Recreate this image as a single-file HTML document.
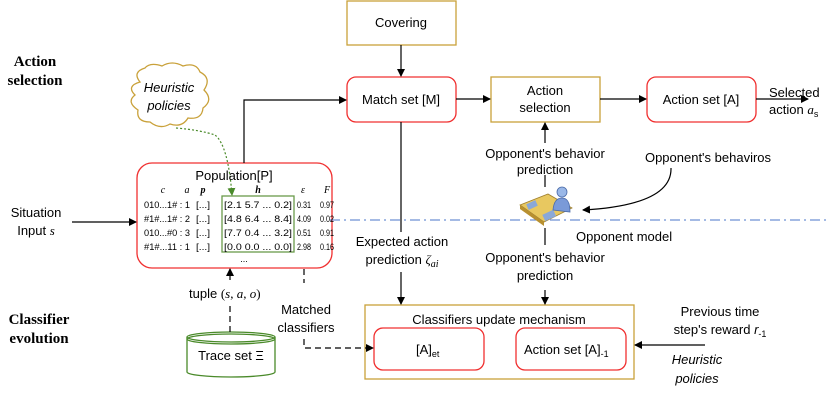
<!DOCTYPE html>
<html><head><meta charset="utf-8"><style>
body{margin:0;background:#fff}
svg{display:block;font-family:"Liberation Sans",sans-serif}
.s{font-family:"Liberation Serif",serif}
</style></head><body>
<svg width="830" height="401" viewBox="0 0 830 401" xmlns="http://www.w3.org/2000/svg">
<defs>
<marker id="a" markerWidth="8" markerHeight="8" refX="7" refY="4" orient="auto" markerUnits="userSpaceOnUse"><path d="M0,0 L8,4 L0,8 z" fill="#000"/></marker>
<marker id="g" markerWidth="8" markerHeight="8" refX="7" refY="4" orient="auto" markerUnits="userSpaceOnUse"><path d="M0,0 L8,4 L0,8 z" fill="#4a8a2a"/></marker>
</defs>
<g fill="none" stroke-width="1.3">
<rect x="347" y="1" width="109" height="44" stroke="#c9a13a"/>
<rect x="347" y="77" width="109" height="45" rx="9" stroke="#f03030"/>
<rect x="491" y="77" width="109" height="45" stroke="#c9a13a"/>
<rect x="647" y="77" width="109" height="45" rx="9" stroke="#f03030"/>
<rect x="137" y="163" width="195" height="105" rx="15" stroke="#f03030"/>
<rect x="222" y="196" width="72" height="56" stroke="#6a9a4a"/>
<rect x="365" y="305" width="269" height="74" stroke="#c9a13a"/>
<rect x="374" y="328" width="110" height="42" rx="9" stroke="#f03030"/>
<rect x="516" y="328" width="110" height="42" rx="9" stroke="#f03030"/>
<path d="M187,337 L187,372 A44,5 0 0 0 275,372 L275,337" stroke="#4a8a2a"/>
<ellipse cx="231" cy="337" rx="44" ry="5" stroke="#4a8a2a"/>
<ellipse cx="231" cy="339" rx="44" ry="5" stroke="#4a8a2a"/>
<path d="M140,82 Q132,72 145,68 Q150,62 162,66 Q172,60 183,66 Q196,62 200,72 Q212,78 204,90 Q214,100 203,108 Q202,120 188,118 Q182,128 170,124 Q160,130 150,122 Q136,122 138,110 Q126,102 135,95 Q126,86 140,82 z" stroke="#c9a13a"/>
</g>
<g stroke="#000" stroke-width="1.2" fill="none">
<line x1="401" y1="45" x2="401" y2="76" marker-end="url(#a)"/>
<polyline points="244,163 244,100 346,100" marker-end="url(#a)"/>
<line x1="456" y1="99" x2="490" y2="99" marker-end="url(#a)"/>
<line x1="600" y1="99" x2="646" y2="99" marker-end="url(#a)"/>
<line x1="756" y1="99" x2="808" y2="99" marker-end="url(#a)"/>
<line x1="545" y1="143" x2="545" y2="123" marker-end="url(#a)"/>
<line x1="545" y1="175" x2="545" y2="187"/>
<line x1="545" y1="228" x2="545" y2="245"/>
<line x1="545" y1="290" x2="545" y2="304" marker-end="url(#a)"/>
<line x1="401" y1="122" x2="401" y2="232"/>
<line x1="401" y1="272" x2="401" y2="304" marker-end="url(#a)"/>
<path d="M671,168 Q672,205 583,210" marker-end="url(#a)"/>
<line x1="72" y1="222" x2="136" y2="222" marker-end="url(#a)"/>
<line x1="705" y1="345" x2="635" y2="345" marker-end="url(#a)"/>
<line x1="230" y1="280" x2="230" y2="269" marker-end="url(#a)"/>
<line x1="230" y1="332" x2="230" y2="303" stroke-dasharray="6,4"/>
<line x1="304" y1="269" x2="304" y2="283" stroke-dasharray="6,4"/>
<polyline points="304,339 304,348 373,348" stroke-dasharray="6,4" marker-end="url(#a)"/>
</g>
<path d="M176,128 Q200,130 215,135 Q228,145 232,195" stroke="#4a8a2a" stroke-width="1.2" fill="none" stroke-dasharray="2,2" marker-end="url(#g)"/>
<line x1="330" y1="220" x2="830" y2="220" stroke="#4a74c8" stroke-width="1" stroke-dasharray="10,4,2,4"/>
<g>
<polygon points="520,205 548,194 572,208 544,222" fill="#e8c860" stroke="#a08030" stroke-width="0.8"/>
<polygon points="520,205 544,222 544,226 520,209" fill="#b89030"/>
<rect x="527" y="202" width="10" height="6" fill="#8aa8d8" transform="rotate(-25 532 205)"/>
<rect x="543" y="212" width="12" height="7" fill="#8aa8d8" transform="rotate(-25 549 215)"/>
<circle cx="562" cy="192" r="5" fill="#9ab8e8" stroke="#4a6aa8" stroke-width="0.8"/>
<path d="M553,210 Q554,198 562,198 Q570,198 570,212 z" fill="#7a9ad8" stroke="#4a6aa8" stroke-width="0.8"/>
</g>
<g font-size="13" fill="#000">
<text x="401" y="27" text-anchor="middle">Covering</text>
<text x="401" y="104" text-anchor="middle">Match set [M]</text>
<text x="545" y="95" text-anchor="middle">Action</text>
<text x="545" y="112" text-anchor="middle">selection</text>
<text x="701" y="104" text-anchor="middle">Action set [A]</text>
<text x="769" y="97">Selected</text>
<text x="769" y="114">action <tspan class="s" font-style="italic">a</tspan><tspan font-size="9" dy="3">s</tspan></text>
<text x="545" y="158" text-anchor="middle">Opponent's behavior</text>
<text x="545" y="174" text-anchor="middle">prediction</text>
<text x="708" y="162" text-anchor="middle">Opponent's behaviros</text>
<text x="576" y="241">Opponent model</text>
<text x="545" y="262" text-anchor="middle">Opponent's behavior</text>
<text x="545" y="280" text-anchor="middle">prediction</text>
<text x="402" y="246" text-anchor="middle">Expected action</text>
<text x="402" y="264" text-anchor="middle">prediction <tspan class="s" font-style="italic">ζ</tspan><tspan class="s" font-style="italic" font-size="10" dy="3">ai</tspan></text>
<text x="499" y="324" text-anchor="middle">Classifiers update mechanism</text>
<text x="416" y="354">[A]<tspan font-size="9" dy="3">et</tspan></text>
<text x="524" y="354">Action set [A]<tspan font-size="9" dy="3">-1</tspan></text>
<text x="720" y="316" text-anchor="middle">Previous time</text>
<text x="720" y="334" text-anchor="middle">step's reward <tspan font-style="italic">r</tspan><tspan font-size="9" dy="3">-1</tspan></text>
<text x="697" y="364" text-anchor="middle" font-style="italic">Heuristic</text>
<text x="697" y="383" text-anchor="middle" font-style="italic">policies</text>
<text x="169" y="92" text-anchor="middle" font-style="italic">Heuristic</text>
<text x="169" y="110" text-anchor="middle" font-style="italic">policies</text>
<text x="36" y="217" text-anchor="middle">Situation</text>
<text x="36" y="235" text-anchor="middle">Input <tspan class="s" font-style="italic">s</tspan></text>
<text x="234" y="180" text-anchor="middle">Population[P]</text>
<text x="189" y="298">tuple <tspan class="s">(<tspan font-style="italic">s</tspan>, <tspan font-style="italic">a</tspan>, <tspan font-style="italic">o</tspan>)</tspan></text>
<text x="306" y="314" text-anchor="middle">Matched</text>
<text x="306" y="332" text-anchor="middle">classifiers</text>
<text x="231" y="360" text-anchor="middle">Trace set Ξ</text>
</g>
<g class="s" font-weight="bold" font-size="15" text-anchor="middle">
<text x="35" y="66">Action</text>
<text x="35" y="85">selection</text>
<text x="39" y="324">Classifier</text>
<text x="39" y="343">evolution</text>
</g>
<g font-size="9" fill="#000">
<g class="s" font-style="italic" font-size="10" text-anchor="middle">
<text x="163" y="193">c</text><text x="187" y="193">a</text><text x="203" y="193" font-weight="bold">p</text><text x="258" y="193" font-weight="bold">h</text><text x="303" y="193">ε</text><text x="327" y="193">F</text>
</g>
<g>
<text x="144" y="208" textLength="46" lengthAdjust="spacingAndGlyphs">010...1# : 1</text><text x="196" y="208" textLength="14" lengthAdjust="spacingAndGlyphs">[...]</text><text x="224" y="208" textLength="68" lengthAdjust="spacingAndGlyphs">[2.1 5.7 ... 0.2]</text><text x="297" y="208" textLength="14" lengthAdjust="spacingAndGlyphs">0.31</text><text x="320" y="208" textLength="14" lengthAdjust="spacingAndGlyphs">0.97</text>
<text x="144" y="222" textLength="46" lengthAdjust="spacingAndGlyphs">#1#...1# : 2</text><text x="196" y="222" textLength="14" lengthAdjust="spacingAndGlyphs">[...]</text><text x="224" y="222" textLength="68" lengthAdjust="spacingAndGlyphs">[4.8 6.4 ... 8.4]</text><text x="297" y="222" textLength="14" lengthAdjust="spacingAndGlyphs">4.09</text><text x="320" y="222" textLength="14" lengthAdjust="spacingAndGlyphs">0.02</text>
<text x="144" y="236" textLength="46" lengthAdjust="spacingAndGlyphs">010...#0 : 3</text><text x="196" y="236" textLength="14" lengthAdjust="spacingAndGlyphs">[...]</text><text x="224" y="236" textLength="68" lengthAdjust="spacingAndGlyphs">[7.7 0.4 ... 3.2]</text><text x="297" y="236" textLength="14" lengthAdjust="spacingAndGlyphs">0.51</text><text x="320" y="236" textLength="14" lengthAdjust="spacingAndGlyphs">0.91</text>
<text x="144" y="250" textLength="46" lengthAdjust="spacingAndGlyphs">#1#...11 : 1</text><text x="196" y="250" textLength="14" lengthAdjust="spacingAndGlyphs">[...]</text><text x="224" y="250" textLength="68" lengthAdjust="spacingAndGlyphs">[0.0 0.0 ... 0.0]</text><text x="297" y="250" textLength="14" lengthAdjust="spacingAndGlyphs">2.98</text><text x="320" y="250" textLength="14" lengthAdjust="spacingAndGlyphs">0.16</text>
</g>
<text x="244" y="262" text-anchor="middle">...</text>
</g>
</svg>
</body></html>
